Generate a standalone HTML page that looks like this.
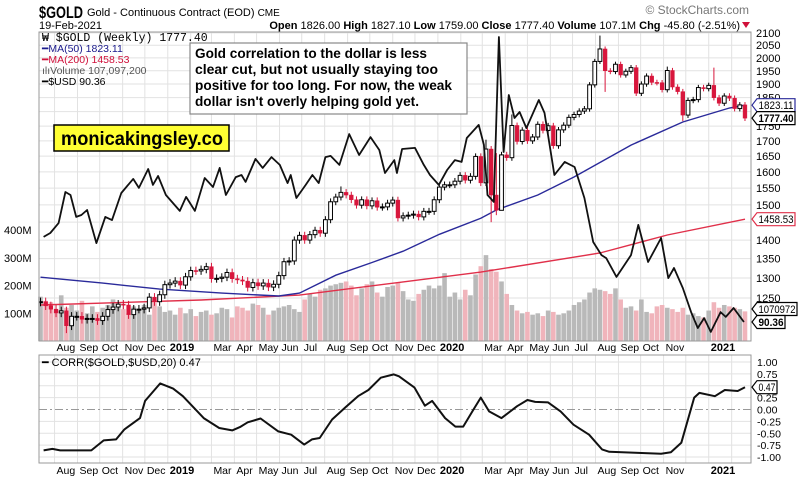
<!DOCTYPE html>
<html><head><meta charset="utf-8"><style>
html,body{margin:0;padding:0;background:#fff;}
svg{display:block;font-family:"Liberation Sans",sans-serif;}
</style></head><body>
<svg id="chart" width="803" height="480" viewBox="0 0 803 480" xmlns="http://www.w3.org/2000/svg">
<rect width="803" height="480" fill="#fff"/>
<g>
<text x="39" y="18" font-size="17" font-weight="bold" textLength="44" lengthAdjust="spacingAndGlyphs">$GOLD</text>
<text x="87" y="16" font-size="11">Gold - Continuous Contract (EOD) <tspan font-size="10">CME</tspan></text>
<text x="39" y="29" font-size="11">19-Feb-2021</text>
<text x="749" y="14" font-size="12" fill="#777" text-anchor="end">© StockCharts.com</text>
<text x="740" y="29" font-size="11" text-anchor="end"><tspan font-weight="bold">Open</tspan> 1826.00 <tspan font-weight="bold">High</tspan> 1827.10 <tspan font-weight="bold">Low</tspan> 1759.00 <tspan font-weight="bold">Close</tspan> 1777.40 <tspan font-weight="bold">Volume</tspan> 107.1M <tspan font-weight="bold">Chg</tspan> -45.80 (-2.51%)</text>
<path d="M742 22 L750 22 L746 28 Z" fill="#d0103a"/>
</g>
<defs><clipPath id="mclip"><rect x="39" y="32" width="712" height="309"/></clipPath></defs>
<g id="grid"></g>
<g id="vol"></g>
<g id="main" clip-path="url(#mclip)"></g>
<g id="corr"></g>
<g id="axes"></g>
<rect x="39" y="32" width="712" height="309" fill="none" stroke="#999"/>
<rect x="39" y="355" width="712" height="108" fill="none" stroke="#999"/>
<g>
<text x="42" y="41" font-size="11.5" font-family="Liberation Mono, monospace">₩ $GOLD (Weekly) 1777.40</text>
<text x="42" y="52" font-size="10.5" fill="#1a1a8c">━MA(50) 1823.11</text>
<text x="42" y="63" font-size="10.5" fill="#d0103a">━MA(200) 1458.53</text>
<text x="42" y="74" font-size="10.5" fill="#555">ılıVolume 107,097,200</text>
<text x="42" y="85" font-size="10.5" fill="#000">━$USD 90.36</text>
</g>
<g>
<rect x="190" y="43" width="277" height="71" fill="#fff" stroke="#888" stroke-width="1.2"/>
<text x="195" y="58" font-size="14" font-weight="bold" textLength="232" lengthAdjust="spacingAndGlyphs">Gold correlation to the dollar is less</text>
<text x="195" y="74" font-size="14" font-weight="bold" textLength="243" lengthAdjust="spacingAndGlyphs">clear cut, but not usually staying too</text>
<text x="195" y="90" font-size="14" font-weight="bold" textLength="257" lengthAdjust="spacingAndGlyphs">positive for too long. For now, the weak</text>
<text x="195" y="106" font-size="14" font-weight="bold" textLength="224" lengthAdjust="spacingAndGlyphs">dollar isn't overly helping gold yet.</text>
</g>
<g>
<rect x="54" y="125" width="175" height="26" fill="#ffff33" stroke="#000" stroke-width="1.5"/>
<text x="61" y="145" font-size="19" font-weight="bold" textLength="162" lengthAdjust="spacingAndGlyphs">monicakingsley.co</text>
</g>
<text x="42" y="366" font-size="11">━ CORR($GOLD,$USD,20) 0.47</text>
<g id="tags"></g>
</svg>
<script>
// ---------- DATA ----------
const closes = [1241,1231,1223,1214,1219,1184,1206,1206,1199,1201,1201,1196,1206,1222,1228,1235,1233,1210,1223,1223,1226,1252,1241,1258,1283,
1287,1292,1282,1303,1319,1318,1322,1329,1298,1299,1302,1314,1298,1295,1292,1276,1288,1280,1287,1277,1284,1306,1342,1344,1400,1413,1400,1415,1427,1419,1457,1509,1523,1537,1529,1515,1499,1515,1497,1512,1493,1494,1505,1514,1462,1468,1470,1473,1465,1481,1481,1515,
1553,1560,1560,1571,1589,1574,1586,1649,1566,1673,1529,1484,1654,1645,1752,1698,1736,1700,1713,1756,1735,1751,1684,1737,1753,1780,1790,1802,1810,1897,1986,2035,1950,1947,1975,1934,1948,1962,1866,1900,1930,1906,1905,1879,1951,1889,1872,1788,1840,1843,1887,1883,
1895,1850,1830,1856,1848,1811,1824,1777.4];
const firstOpen = 1240;
const highOverrideWeek = [86,88,91,108,121,130,58];
const highOverrideVal  = [1704,1660,1790,2089,1966,1962,1555];
const lowOverrideWeek  = [87,88,109,124,5,89];
const lowOverrideVal   = [1450,1470,1871,1767,1167,1568];
const volumes = [160,145,140,110,165,120,130,110,145,100,125,105,120,130,150,120,115,100,125,110,130,95,140,125,105,
110,95,120,100,115,90,105,110,95,100,120,115,85,125,120,110,135,130,120,95,110,120,125,130,115,105,150,170,160,185,190,200,205,210,215,200,165,190,205,215,175,160,195,200,210,180,150,145,170,185,200,190,
200,245,160,175,150,185,165,240,270,310,260,250,215,170,130,110,100,105,95,100,90,110,105,95,100,110,130,140,150,175,190,185,180,170,190,150,120,125,110,150,105,100,125,130,120,115,105,120,95,100,90,85,
110,140,120,130,125,120,115,107];
const usdWeeks = [0.6,1.9,3.5,4.8,5.8,6.9,7.9,9.0,10.8,12.5,13.8,15.6,17.9,19.0,20.8,21.7,22.7,24.2,26.9,28.1,29.8,31.7,33.3,34.6,35.8,37.7,38.8,39.6,41.5,42.9,44.6,46.2,47.7,48.3,49.4,51.2,52.5,53.7,55.0,56.0,57.7,59.6,61.5,63.7,65.4,66.5,68.3,68.8,69.8,72.3,74.0,75.2,76.9,78.5,80.0,81.3,82.3,84.6,85.6,86.3,87.5,88.5,89.4,90.4,91.5,92.5,93.8,96.2,97.3,99.2,101.2,103.1,105.0,106.7,108.3,109.2,111.2,114.0,115.4,117.3,119.8,121.2,122.3,124.0,125.6,126.9,128.1,129.4,131.3,132.3,133.8,135.8];
const usdValues = [94.06,94.23,94.66,96.01,95.88,94.93,95.01,95.23,93.79,94.93,94.79,95.97,96.58,96.19,97.01,96.32,96.71,95.88,95.19,95.8,95.19,96.62,96.23,97.06,95.88,96.66,96.75,96.45,97.45,97.06,97.53,97.19,96.4,96.75,95.75,96.32,96.75,96.4,97.53,97.58,97.19,98.53,97.62,98.4,97.84,96.84,97.4,96.84,97.88,97.93,97.19,96.75,96.32,96.97,97.4,97.32,98.36,98.93,98.06,95.88,95.58,102.75,97.75,100.23,99.23,99.49,98.79,100.01,99.45,96.75,97.32,97.1,95.75,93.84,93.27,93.14,92.32,93.27,94.58,92.97,94.01,92.27,92.71,91.84,90.79,90.1,90.53,89.93,90.79,90.58,90.97,90.36];
const ma50Weeks = [0,12,23,35,46,50,57,64,70,77,85,88,96,103,114,124,133,136];
const ma50Values = [1302,1287,1272,1262,1255,1262,1307,1340,1370,1416,1461,1485,1529,1584,1686,1764,1813,1823];
const ma200Weeks = [0,31,50,70,85,108,121,136];
const ma200Values = [1233,1245,1257,1290,1315,1365,1414,1458.5];
const corrWeeks = [0.6,2.3,3.8,9.8,12.2,14.6,16.2,19.2,20.2,23.1,25.6,27.5,31.5,34.5,37,38.5,40,42.5,45.9,48.4,50.9,52.4,53.9,56.3,58.8,61.3,63.3,65.7,68.2,69.2,72.2,74.2,75.6,78.1,80.1,81.6,83.6,85,86.6,89,92,94,95.5,98,100.4,102.9,105.9,108.4,109.8,114.8,119.8,121.7,123.7,126.2,127.2,130.2,132.1,134.6,136];
const corrValues = [-0.86,-0.83,-0.86,-0.86,-0.65,-0.63,-0.42,-0.18,0.18,0.55,0.44,0.28,-0.18,-0.39,-0.44,-0.37,-0.27,-0.19,-0.46,-0.53,-0.74,-0.63,-0.6,-0.21,0.04,0.28,0.41,0.67,0.74,0.70,0.46,0.08,0.18,-0.18,-0.36,-0.36,0.0,0.25,-0.04,-0.18,0.07,0.2,0.16,0.15,-0.04,-0.32,-0.53,-0.84,-0.89,-0.91,-0.93,-0.9,-0.7,0.25,0.35,0.28,0.41,0.39,0.47];
const priceTicks = [2100,2050,2000,1950,1900,1850,1750,1700,1650,1600,1550,1500,1400,1350,1300,1250];
const volTicks = [100,200,300,400];
const volTickLabels = ["100M","200M","300M","400M"];
const corrTicks = [1,0.75,0.5,0.25,0,-0.25,-0.5,-0.75,-1];
const corrTickLabels = ["1.00","0.75","0.50","0.25","0.00","-0.25","-0.50","-0.75","-1.00"];
const monthStarts = ["2018-08-01","2018-09-01","2018-10-01","2018-11-01","2018-12-01","2019-01-01","2019-02-01","2019-03-01","2019-04-01","2019-05-01","2019-06-01","2019-07-01","2019-08-01","2019-09-01","2019-10-01","2019-11-01","2019-12-01","2020-01-01","2020-02-01","2020-03-01","2020-04-01","2020-05-01","2020-06-01","2020-07-01","2020-08-01","2020-09-01","2020-10-01","2020-11-01","2020-12-01","2021-01-01","2021-02-01"];
const monthLabels = ["Aug","Sep","Oct","Nov","Dec","2019","","Mar","Apr","May","Jun","Jul","Aug","Sep","Oct","Nov","Dec","2020","","Mar","Apr","May","Jun","Jul","Aug","Sep","Oct","Nov","","2021",""];

// ---------- SCALES ----------
const NS = "http://www.w3.org/2000/svg";
const X0 = 40.5, PXW = 5.18;
const startDate = Date.UTC(2018,6,13);
function xW(i){ return X0 + i*PXW; }
function xDate(s){ const p=s.split("-"); const d=(Date.UTC(+p[0],+p[1]-1,+p[2])-startDate)/86400000; return X0 + d/7*PXW; }
function yP(p){ return 298 - Math.log(p/1250)*511; }
function yV(v){ return 341 - v*0.277; }
function yU(v){ return 322 - (v-90.36)*23; }
function yC(v){ return 409.5 - v*47.5; }
function mk(tag, attrs, parent){ const e=document.createElementNS(NS,tag); for(const k in attrs) e.setAttribute(k,attrs[k]); parent.appendChild(e); return e; }

const gGrid=document.getElementById("grid"), gVol=document.getElementById("vol"), gMain=document.getElementById("main"), gCorr=document.getElementById("corr"), gAx=document.getElementById("axes"), gTags=document.getElementById("tags");

priceTicks.concat([1800,1450]).forEach(p=>{
  const l=mk("line",{x1:39,x2:751,y1:yP(p),y2:yP(p),stroke:"#e2e2e2"},gGrid);
  
  
});
corrTicks.forEach(v=>{
  if(v===0) return;
  const l=mk("line",{x1:39,x2:751,y1:yC(v),y2:yC(v),stroke:"#e2e2e2"},gGrid);
  
  
});
monthStarts.forEach((m,i)=>{
  const x=xDate(m);
  [[32,341],[355,463]].forEach(r=>{
    const l=mk("line",{x1:x,x2:x,y1:r[0],y2:r[1],stroke:"#e2e2e2"},gGrid);
    
    
  });
  if(monthLabels[i]){
    const isYear=/^\d+$/.test(monthLabels[i]);
    [351,474].forEach(y=>{
      const t=mk("text",{x:x+2,y:y,"font-size":isYear?11:10.5,"font-weight":isYear?"bold":"normal"},gAx);
      t.textContent=monthLabels[i];
      
      
    });
  }
});
const z=mk("line",{x1:39,x2:751,y1:yC(0),y2:yC(0),stroke:"#999","stroke-dasharray":"8,3,2,3"},gCorr);



volumes.forEach((v,i)=>{
  const prev = i===0?firstOpen:closes[i-1];
  const down = closes[i] < prev;
  const r=mk("rect",{x:xW(i)-2.3,y:yV(v),width:4.6,height:341-yV(v),fill:down?"#f0b4bb":"#b9b9b9"},gVol);
  
  
});

function polyPath(ws, vs, yf){ return ws.map((w,i)=>(i?"L":"M")+xW(w).toFixed(1)+" "+yf(vs[i]).toFixed(1)).join(" "); }
const m200=mk("path",{d:polyPath(ma200Weeks,ma200Values,yP),fill:"none",stroke:"#e0304a","stroke-width":1.4},gMain);


const m50=mk("path",{d:polyPath(ma50Weeks,ma50Values,yP),fill:"none",stroke:"#2a2a9a","stroke-width":1.4},gMain);



closes.forEach((c,i)=>{
  const o = i===0?firstOpen:closes[i-1];
  let h = Math.max(o,c)+10, lo = Math.min(o,c)-10;
  const hi=highOverrideWeek.indexOf(i); if(hi>=0) h=highOverrideVal[hi];
  const li=lowOverrideWeek.indexOf(i); if(li>=0) lo=lowOverrideVal[li];
  const down = c < o;
  const col = down?"#d8163c":"#000";
  const x=xW(i);
  const w=mk("line",{x1:x,x2:x,y1:yP(h),y2:yP(lo),stroke:col,"stroke-width":1},gMain);
  
  
  const top=yP(Math.max(o,c)), bot=yP(Math.min(o,c));
  const b=mk("rect",{x:x-1.9,y:top,width:3.8,height:Math.max(1,bot-top),fill:down?"#d8163c":"#fff",stroke:col,"stroke-width":down?0.5:1},gMain);
  
  
});

const usd=mk("path",{d:polyPath(usdWeeks,usdValues,yU),fill:"none",stroke:"#111","stroke-width":1.8,"stroke-linejoin":"round"},gMain);



const cl=mk("path",{d:polyPath(corrWeeks,corrValues,yC),fill:"none",stroke:"#111","stroke-width":2,"stroke-linejoin":"round"},gCorr);



priceTicks.forEach(p=>{
  const t=mk("text",{x:756,y:yP(p)+4,"font-size":11},gAx);
  t.textContent=p;
  
  
});
volTicks.forEach((v,i)=>{
  const t=mk("text",{x:4,y:yV(v)+4,"font-size":11},gAx);
  t.textContent=volTickLabels[i];
  
  
});
corrTicks.forEach((v,i)=>{
  const t=mk("text",{x:757,y:yC(v)+4,"font-size":10.5},gAx);
  t.textContent=corrTickLabels[i];
  
  
});

function tag(y, txt, color, bold, w, name){
  const g=mk("g",{},gTags);
  
  
  mk("path",{d:"M752 "+y+" L757 "+(y-6.5)+" L"+(757+w)+" "+(y-6.5)+" L"+(757+w)+" "+(y+6.5)+" L757 "+(y+6.5)+" Z",fill:"#fff",stroke:color,"stroke-width":1.2},g);
  const t=mk("text",{x:758.5,y:y+4,"font-size":11,"font-weight":bold?"bold":"normal",fill:"#000",textLength:w-3,lengthAdjust:"spacingAndGlyphs"},g);
  t.textContent=txt;
}
tag(yP(ma50Values[ma50Values.length-1]),"1823.11","#2a2a9a",false,38,"ma50-value-tag");
tag(yP(closes[closes.length-1]),"1777.40","#000",true,38,"close-value-tag");
tag(yP(ma200Values[ma200Values.length-1]),"1458.53","#e0304a",false,38,"ma200-value-tag");
tag(309,"1070972","#000",false,40,"volume-value-tag");
tag(yU(usdValues[usdValues.length-1]),"90.36","#000",true,28,"usd-value-tag");
tag(yC(corrValues[corrValues.length-1]),"0.47","#000",false,20,"corr-value-tag");
</script>
</body></html>
